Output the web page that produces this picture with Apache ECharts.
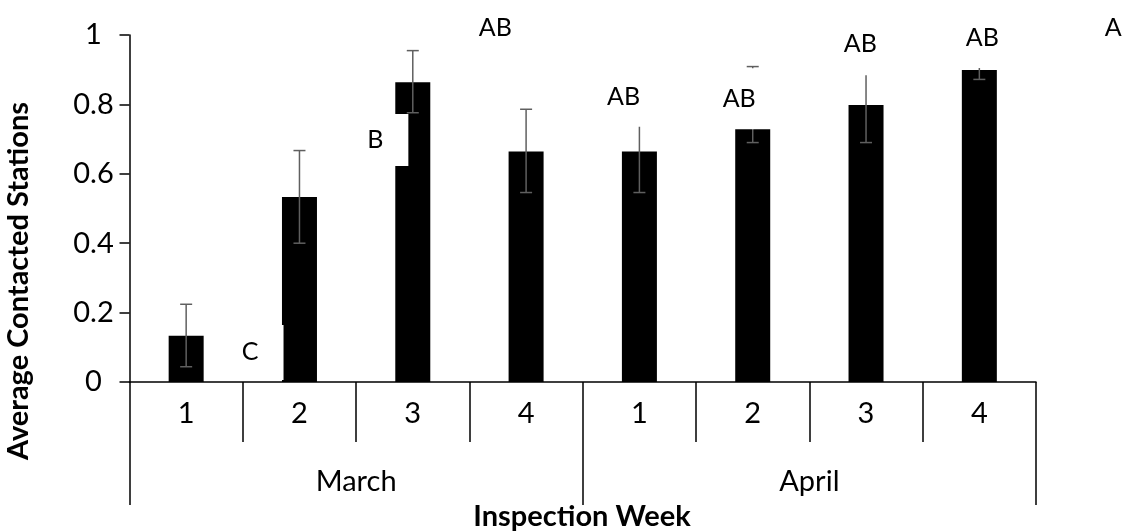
<!DOCTYPE html>
<html>
<head>
<meta charset="utf-8">
<script src="https://cdn.jsdelivr.net/npm/echarts@6/dist/echarts.min.js"></script>
<style>
  html, body { margin: 0; padding: 0; background: #fff; }
  #chart { width: 1124px; height: 531px; }
</style>
</head>
<body>
<div id="chart"></div>
<script>
// Inspection weeks, grouped by month
const weeks = ['1', '2', '3', '4', '1', '2', '3', '4'];
const months = ['March', 'April'];

// Average contacted stations per week, with error-bar ends
const avgContacted = [0.133, 0.533, 0.864, 0.664, 0.664, 0.729, 0.798, 0.899];
const errLow  = [0.044, 0.400, 0.776, 0.546, 0.546, 0.690, 0.690, 0.872];
const errHigh = [0.224, 0.667, 0.955, 0.786, 0.784, 0.909, 0.906, 0.926];

// Significance letters and where they sit (x in week slots from the left edge, y in axis units)
const letters = ['C', 'B', 'AB', 'AB', 'AB', 'AB', 'AB', 'A'];
const letterX = [1.065, 2.169, 3.228, 4.360, 5.381, 6.449, 7.526, 8.682];
const letterY = [0.078, 0.686, 1.020, 0.822, 0.818, 0.976, 0.991, 1.020];

// white label boxes: how far each box reaches above / below its letter (px)
const boxBelow = [25, 22, 30, 30, 31, 32, 30, 30];
const boxAbove = 30;
const textDrop = 4;  // visual centring of capitals inside the box
const FONT = 'Lato, "Open Sans", sans-serif';
const FS = 29;      // axis text
const FS_LET = 25;  // significance letters

const chart = echarts.init(document.getElementById('chart'), null, { renderer: 'canvas' });

const errColor = '#5f5f5f';
const cap = 6;

const option = {
  animation: false,
  backgroundColor: '#fff',
  textStyle: { fontFamily: FONT },
  grid: { left: 129.5, right: 88, top: 35, bottom: 149, containLabel: false },
  xAxis: [
    {
      type: 'category',
      data: weeks,
      position: 'bottom',
      offset: 0,
      axisLine: { show: true, lineStyle: { color: '#000', width: 1.5 } },
      axisTick: { show: true, length: 60, lineStyle: { color: '#000', width: 1.5 } },
      axisLabel: { color: '#000', fontSize: FS, fontFamily: FONT, margin: 17 },
      splitLine: { show: false }
    },
    {
      type: 'category',
      data: months,
      position: 'bottom',
      offset: 0,
      axisLine: { show: false },
      axisTick: { show: true, length: 123, lineStyle: { color: '#000', width: 1.5 } },
      axisLabel: { color: '#000', fontSize: FS, fontFamily: FONT, margin: 85 },
      splitLine: { show: false }
    },
    {
      type: 'value',
      min: 0,
      max: 8,
      show: false
    }
  ],
  yAxis: {
    type: 'value',
    min: 0,
    max: 1,
    interval: 0.2,
    axisLine: { show: true, lineStyle: { color: '#000', width: 1.5 } },
    axisTick: { show: true, length: 10, lineStyle: { color: '#000', width: 1.5 } },
    axisLabel: { color: '#000', fontSize: FS, fontFamily: FONT, margin: 36, align: 'center' },
    splitLine: { show: false }
  },
  graphic: [
    {
      type: 'text',
      x: 19,
      y: 281,
      rotation: Math.PI / 2,
      style: {
        text: 'Average Contacted Stations',
        font: 'bold 29px ' + FONT,
        fill: '#000',
        textAlign: 'center',
        textVerticalAlign: 'middle'
      }
    },
    {
      type: 'text',
      x: 582,
      y: 517,
      style: {
        text: 'Inspection Week',
        font: 'bold 29px ' + FONT,
        fill: '#000',
        textAlign: 'center',
        textVerticalAlign: 'middle'
      }
    }
  ],
  series: [
    {
      type: 'bar',
      xAxisIndex: 0,
      yAxisIndex: 0,
      data: avgContacted,
      barWidth: 35,
      itemStyle: { color: '#000' },
      z: 2
    },
    {
      type: 'custom',
      xAxisIndex: 0,
      yAxisIndex: 0,
      z: 3,
      data: errLow.map((lo, i) => [i, lo, errHigh[i]]),
      renderItem: function (params, api) {
        const i = api.value(0);
        const lo = api.coord([i, api.value(1)]);
        const hi = api.coord([i, api.value(2)]);
        const st = { stroke: errColor, lineWidth: 1.5 };
        return {
          type: 'group',
          children: [
            { type: 'line', shape: { x1: lo[0], y1: lo[1], x2: hi[0], y2: hi[1] }, style: st },
            { type: 'line', shape: { x1: lo[0] - cap, y1: lo[1], x2: lo[0] + cap, y2: lo[1] }, style: st },
            { type: 'line', shape: { x1: hi[0] - cap, y1: hi[1], x2: hi[0] + cap, y2: hi[1] }, style: st }
          ]
        };
      }
    },
    {
      type: 'scatter',
      xAxisIndex: 2,
      yAxisIndex: 0,
      symbolSize: 0,
      clip: false,
      silent: true,
      z: 6,
      itemStyle: { opacity: 1 },
      data: letters.map((t, i) => {
        const top = boxAbove - FS_LET / 2 + textDrop;
        const bottom = boxBelow[i] - FS_LET / 2 - textDrop;
        return {
          name: t,
          value: [letterX[i], letterY[i]],
          label: {
            padding: [top, 25, bottom, 25],
            offset: [0, (boxBelow[i] - boxAbove) / 2]
          }
        };
      }),
      label: {
        show: true,
        position: 'inside',
        formatter: '{b}',
        color: '#000',
        opacity: 1,
        fontSize: FS_LET,
        fontFamily: FONT,
        lineHeight: FS_LET,
        backgroundColor: '#fff'
      }
    }
  ]
};

chart.setOption(option);
</script>
</body>
</html>
